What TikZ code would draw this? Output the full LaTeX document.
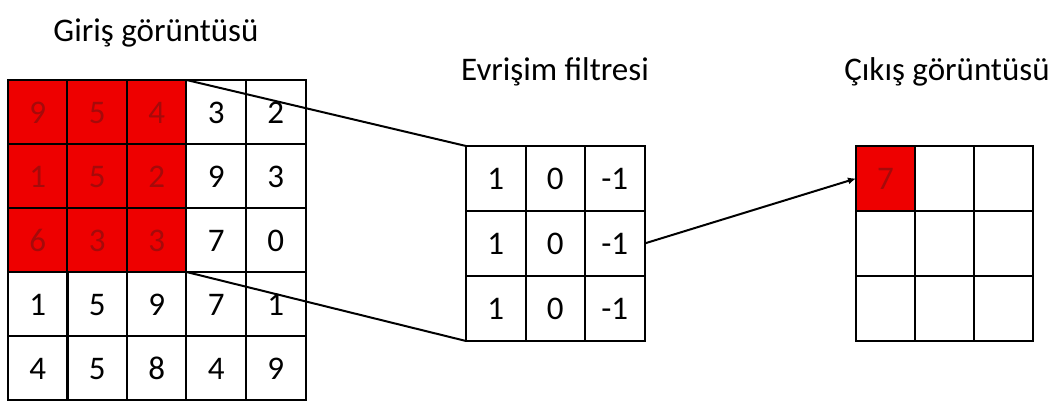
\documentclass[tikz,border=0pt]{standalone}
\usepackage{fontspec}
\setmainfont{Carlito}
\usetikzlibrary{arrows.meta,matrix}
\definecolor{kirmizi}{RGB}{238,0,0}
\definecolor{koyukirmizi}{RGB}{165,10,10}

\begin{document}
\begin{tikzpicture}[x=0.5pt,y=-0.5pt,>={Latex[length=4pt,width=3.6pt]},
    every node/.style={font=\fontsize{16.5}{20}\selectfont},
    hucre/.style={draw,line width=1pt,inner sep=0pt,outer sep=0pt,anchor=center,
      text height=11pt,text depth=0pt,minimum width=29.75pt,minimum height=32pt},
    dolu/.style={fill=kirmizi,text=koyukirmizi},
    izgara/.style={matrix of nodes,nodes={hucre},column sep=-1pt,row sep=-1pt,
      inner sep=0pt,outer sep=0pt,anchor=north west}]
  \useasboundingbox (0,0) rectangle (1055,406);

  \node (t1) at (156,33) {Giriş görüntüsü};
  \node (t2) at (555,72) {Evrişim filtresi};
  \node (t3) at (947,72) {Çıkış görüntüsü};

  \matrix (giris) [izgara] at (7,79) {
    |[dolu]| 9 & |[dolu]| 5 & |[dolu]| 4 & 3 & 2 \\
    |[dolu]| 1 & |[dolu]| 5 & |[dolu]| 2 & 9 & 3 \\
    |[dolu]| 6 & |[dolu]| 3 & |[dolu]| 3 & 7 & 0 \\
    1 & 5 & 9 & 7 & 1 \\
    4 & 5 & 8 & 4 & 9 \\
  };
  \matrix (filtre) [izgara,nodes={minimum height=32.5pt}] at (465,145) {
    1 & 0 & -1 \\
    1 & 0 & -1 \\
    1 & 0 & -1 \\
  };
  \matrix (cikis) [izgara,nodes={minimum width=29.5pt,minimum height=32.5pt}] at (855,145) {
    |[dolu]| 7 & {} & {} \\
    {} & {} & {} \\
    {} & {} & {} \\
  };

  \draw[line width=1pt] (giris-1-3.north east) -- (filtre-1-1.north west);
  \draw[line width=1pt] (giris-3-3.south east) -- (filtre-3-1.south west);
  \draw[->,line width=1pt] (filtre-2-3.east) -- (cikis-1-1.west);
\end{tikzpicture}
\end{document}
